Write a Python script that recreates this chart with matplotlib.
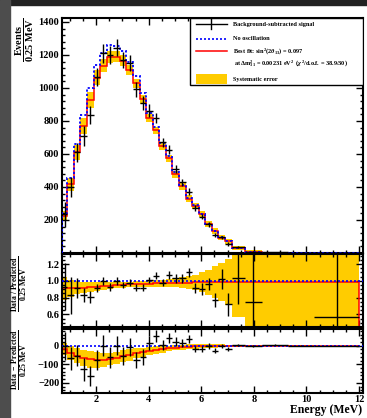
import numpy as np
import matplotlib
matplotlib.use("Agg")
import matplotlib.pyplot as plt
from matplotlib.patches import Rectangle
from matplotlib.lines import Line2D
from matplotlib.ticker import MultipleLocator, FormatStrFormatter

plt.rcParams['font.family'] = ['Liberation Serif', 'DejaVu Serif']
plt.rcParams['font.weight'] = 'bold'
plt.rcParams['mathtext.fontset'] = 'custom'
plt.rcParams['mathtext.rm'] = 'Liberation Serif:bold'
plt.rcParams['mathtext.it'] = 'Liberation Serif:bold:italic'
plt.rcParams['mathtext.bf'] = 'Liberation Serif:bold'

# bin edges (MeV)
edges = np.array([0.7, 0.9, 1.15, 1.4, 1.65, 1.9, 2.15, 2.4, 2.65, 2.9, 3.15, 3.4, 3.65, 3.9,
                  4.15, 4.4, 4.65, 4.9, 5.15, 5.4, 5.65, 5.9, 6.15, 6.4, 6.65, 6.9, 7.15,
                  7.65, 8.3, 9.3, 10.3, 12.0])

# top panel: events / 0.25 MeV
data = [235, 400, 610, 711, 838, 1065, 1210, 1200, 1243, 1169, 1149, 993, 908, 862, 818,
        671, 627, 510, 429, 371, 271, 221, 174, 108, 94, 54, 34, 7, 4, 1, 0.3]
data_err = [75, 62, 58, 60, 55, 55, 58, 55, 52, 50, 48, 45, 43, 38, 30,
            28, 26, 24, 22, 20, 18, 16, 14, 12, 11, 10, 6, 4, 3, 2, 1]
no_osc = [245, 456, 663, 838, 1000, 1138, 1213, 1262, 1255, 1222, 1158, 1070, 967, 849, 766,
          667, 587, 488, 413, 335, 289, 239, 176, 135, 94, 72, 32, 9, 2, 1, 0.5]
best_fit = [225, 416, 609, 770, 927, 1061, 1136, 1190, 1190, 1166, 1108, 1029, 931, 820, 743,
            647, 573, 477, 404, 330, 285, 237, 174, 133, 93, 71, 31, 9, 2, 1, 0.5]
sys_top = [30, 40, 45, 48, 48, 45, 40, 37, 35, 33, 30, 28, 26, 24, 23,
           22, 21, 20, 20, 19, 19, 20, 19, 18, 16, 14, 10, 7, 3, 2, 1]

# middle panel: data / predicted
ratio_data = [0.93, 0.83, 0.91, 0.83, 0.81, 0.917, 1.0, 0.93, 1.0, 0.95, 0.98, 0.917, 0.917, 1.01, 1.06,
              0.98, 1.07, 1.03, 1.03, 1.10, 0.92, 0.90, 0.96, 0.77, 1.02, 0.72, 1.03, 0.75,
              np.nan, np.nan, 0.57]
ratio_err = [0.28, 0.22, 0.12, 0.08, 0.07, 0.05, 0.05, 0.045, 0.045, 0.04, 0.04, 0.04, 0.04, 0.04, 0.04,
             0.04, 0.045, 0.05, 0.05, 0.055, 0.06, 0.07, 0.07, 0.08, 0.12, 0.14, 0.3, 1.5,
             np.nan, np.nan, 1.5]
ratio_fit = [0.91, 0.91, 0.92, 0.92, 0.927, 0.932, 0.937, 0.943, 0.948, 0.954, 0.957, 0.962, 0.963,
             0.966, 0.97, 0.972, 0.975, 0.977, 0.978, 0.98, 0.982, 0.983, 0.985, 0.985, 0.986,
             0.987, 0.988, 0.99, 0.99, 0.99, 0.99]
ratio_sys = [0.14, 0.10, 0.08, 0.065, 0.055, 0.05, 0.045, 0.04, 0.038, 0.035, 0.034, 0.034, 0.035,
             0.037, 0.04, 0.044, 0.05, 0.055, 0.065, 0.075, 0.09, 0.12, 0.15, 0.19, 0.23, 0.27,
             0.42, 2, 2, 2, 2]

# bottom panel: data - predicted
diff_data = [-2, -68, -54, -128, -164, -77, 0, -63, 0, -56, -9, -77, -59, 13, 52,
             4, 40, 22, 16, 36, -18, -18, -2, -27, 0, -18, 4, -2, 5, 0, 0]
diff_err = [75, 62, 58, 60, 55, 55, 58, 55, 52, 50, 48, 45, 43, 38, 30,
            28, 26, 24, 22, 20, 18, 16, 14, 12, 11, 10, 6, 4, 3, 2, 1]
diff_fit = [-20, -40, -54, -68, -73, -77, -77, -72, -65, -56, -50, -41, -36, -29, -23,
            -20, -14, -11, -9, -5, -4, -2, -2, -2, -1, -1, -1, 0, 0, 0, 0]
diff_sys = [32, 36, 40, 43, 45, 45, 40, 34, 33, 32, 30, 27, 25, 23, 20,
            18, 15, 13.5, 13, 12.6, 12, 12, 10, 9, 8, 7, 5, 4, 3, 2, 1]

YEL = '#ffcc00'
centers = 0.5 * (edges[:-1] + edges[1:])
halfw = 0.5 * np.diff(edges)

W, H = 367, 418
fig = plt.figure(figsize=(W / 100, H / 100), dpi=100, facecolor='white')

# screenshot border
fig.patches.append(Rectangle((0, 1 - 5 / H), 1, 5 / H, transform=fig.transFigure,
                             color='#222222', zorder=-1))
fig.patches.append(Rectangle((0, 0), 10 / W, 1, transform=fig.transFigure,
                             color='#4d4d4d', zorder=-1))


def px_axes(x0, y0, x1, y1):
    return fig.add_axes([x0 / W, 1 - y1 / H, (x1 - x0) / W, (y1 - y0) / H])


ax1 = px_axes(62, 18, 363, 253)
ax2 = px_axes(62, 254, 363, 327)
ax3 = px_axes(62, 329, 363, 393)

for ax in (ax1, ax2, ax3):
    ax.set_xlim(0.7, 12.15)
    ax.xaxis.set_major_locator(MultipleLocator(2))
    ax.xaxis.set_minor_locator(MultipleLocator(0.5))
    ax.tick_params(which='both', direction='in', top=True, right=True, labelsize=7.5, width=1)
    ax.tick_params(which='major', length=5)
    ax.tick_params(which='minor', length=2.5)
    ax.tick_params(axis='x', pad=1.5)
    ax.tick_params(axis='y', pad=2)
    for s in ax.spines.values():
        s.set_linewidth(1.5)

# ---- top panel
fit = np.array(best_fit, dtype=float)
st = np.array(sys_top, dtype=float)
ax1.bar(centers, 2 * st, bottom=fit - st, width=2 * halfw, color=YEL, lw=0, zorder=1)
ax1.stairs(best_fit, edges, color='red', lw=1.1, zorder=2)
ax1.stairs(no_osc, edges, color='blue', lw=1.3, ls=(0, (1.2, 1.2)), zorder=3)
ax1.errorbar(centers, data, yerr=data_err, xerr=halfw, fmt='none', ecolor='black',
             elinewidth=1, capsize=0, zorder=4)
ax1.set_ylim(0, 1424)
ax1.set_yticks([200, 400, 600, 800, 1000, 1200, 1400])
ax1.yaxis.set_minor_locator(MultipleLocator(40))
ax1.tick_params(labelbottom=False)

# legend drawn by hand
ax1.add_patch(Rectangle((0.425, 0.715), 0.575, 0.285, transform=ax1.transAxes,
                        facecolor='white', edgecolor='black', lw=1, zorder=5))
hx0, hx1, tx = 0.445, 0.547, 0.567
ly = [0.974, 0.911, 0.861, 0.803, 0.740]
kw = dict(transform=ax1.transAxes, zorder=6, clip_on=False)
ax1.add_line(Line2D([hx0, hx1], [ly[0]] * 2, color='black', lw=1, **kw))
ax1.add_line(Line2D([0.496, 0.496], [ly[0] - 0.022, ly[0] + 0.022], color='black', lw=1, **kw))
ax1.add_line(Line2D([hx0, hx1], [ly[1]] * 2, color='blue', lw=1.2, ls=(0, (1.2, 1.2)), **kw))
ax1.add_line(Line2D([hx0, hx1], [ly[2]] * 2, color='red', lw=1.1, **kw))
ax1.add_patch(Rectangle((hx0, 0.719), hx1 - hx0, 0.043, facecolor=YEL, lw=0, **kw))
tk = dict(transform=ax1.transAxes, fontsize=4.5, fontweight='bold', va='center', zorder=7)
ax1.text(tx, ly[0], 'Background-subtracted signal', **tk)
ax1.text(tx, ly[1], 'No oscillation', **tk)
ax1.text(tx, ly[2], r'Best fit: sin$^{2}$(2$\theta_{13}$) = 0.097', **tk)
ax1.text(tx + 0.004, ly[3],
         r'at $\Delta$m$^{2}_{31}$ = 0.00231 eV$^{2}$  ($\chi^{2}$/d.o.f. = 38.9/30)', **tk)
ax1.text(tx, ly[4], 'Systematic error', **tk)

# ---- ratio panel
rf = np.array(ratio_fit)
rs = np.array(ratio_sys)
ax2.stairs(rf + rs, edges, baseline=rf - rs, fill=True, color=YEL, lw=0, zorder=1)
ax2.stairs(ratio_fit, edges, color='red', lw=1.1, zorder=2)
ax2.axhline(1.0, color='blue', lw=1.2, ls=(0, (1.2, 1.2)), zorder=3)
ax2.errorbar(centers, ratio_data, yerr=ratio_err, xerr=halfw, fmt='none', ecolor='black',
             elinewidth=1, capsize=0, zorder=4)
ax2.set_ylim(0.45, 1.32)
ax2.set_yticks([0.6, 0.8, 1.0, 1.2])
ax2.yaxis.set_minor_locator(MultipleLocator(0.05))
ax2.yaxis.set_major_formatter(FormatStrFormatter('%.1f'))
ax2.tick_params(labelbottom=False)

# ---- difference panel
df = np.array(diff_fit, dtype=float)
ds = np.array(diff_sys, dtype=float)
ax3.stairs(df + ds, edges, baseline=df - ds, fill=True, color=YEL, lw=0, zorder=1)
ax3.stairs(diff_fit, edges, color='red', lw=1.1, zorder=2)
ax3.axhline(0, color='blue', lw=1.2, ls=(0, (1.2, 1.2)), zorder=3)
ax3.errorbar(centers, diff_data, yerr=diff_err, xerr=halfw, fmt='none', ecolor='black',
             elinewidth=1, capsize=0, zorder=4)
ax3.set_ylim(-255, 90)
ax3.set_yticks([-200, -100, 0])
ax3.yaxis.set_minor_locator(MultipleLocator(20))
ax3.set_xticks([2, 4, 6, 8, 10, 12])

for ax in (ax1, ax2, ax3):
    for lab in ax.get_xticklabels() + ax.get_yticklabels():
        lab.set_fontweight('bold')

# y labels as fractions, aligned to the top of each panel
ax1.text(-0.125, 1.0, r'$\frac{\mathrm{Events}}{\mathrm{0.25\ MeV}}$', transform=ax1.transAxes,
         rotation=90, ha='center', va='top', fontsize=10.5)
ax2.text(-0.14, 0.98, r'$\frac{\mathrm{Data\ /\ Predicted}}{\mathrm{0.25\ MeV}}$',
         transform=ax2.transAxes, rotation=90, ha='center', va='top', fontsize=8)
ax3.text(-0.14, 1.0, r'$\frac{\mathrm{Data\ -\ Predicted}}{\mathrm{0.25\ MeV}}$',
         transform=ax3.transAxes, rotation=90, ha='center', va='top', fontsize=8)
fig.text(362 / W, 1 - 410 / H, 'Energy (MeV)', ha='right', va='center', fontsize=8.5,
         fontweight='bold')

fig.savefig('out.png', dpi=100, facecolor=fig.get_facecolor())
